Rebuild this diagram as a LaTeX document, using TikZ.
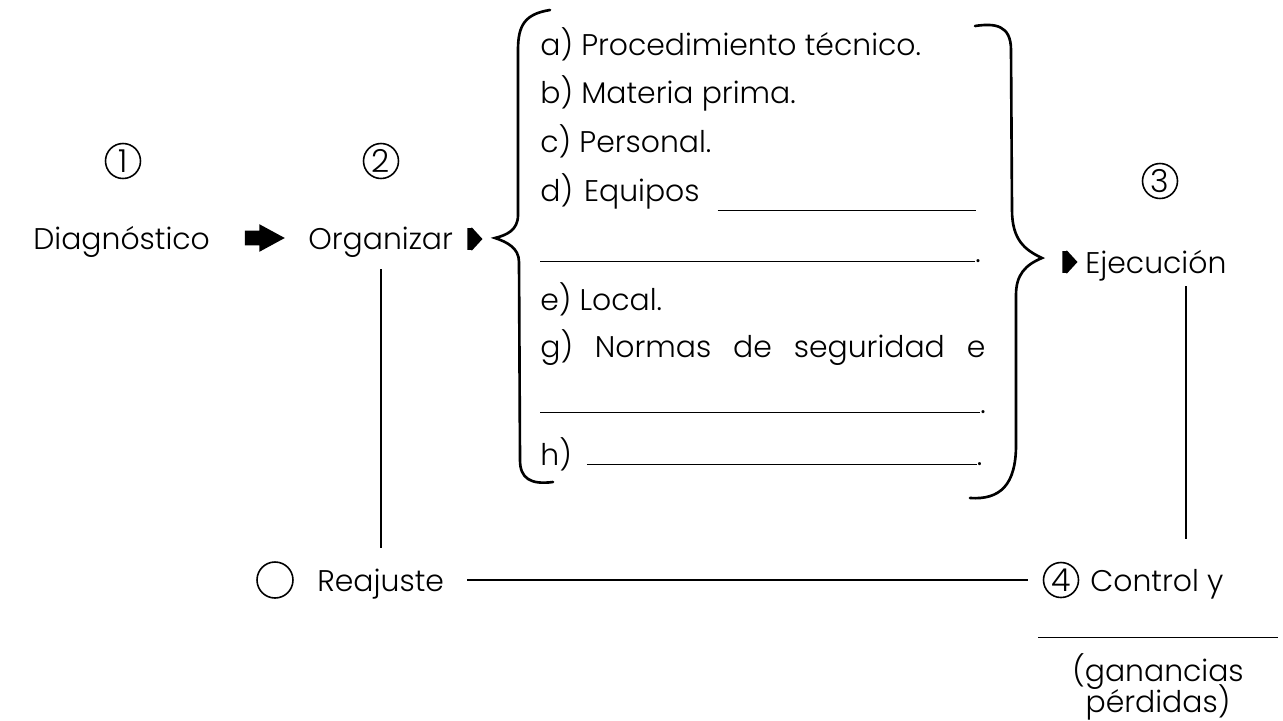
\documentclass[tikz,border=0pt]{standalone}
\usepackage{fontspec}
\setmainfont{Poppins}[UprightFont=* Light]
\usetikzlibrary{shapes.arrows}
\tikzset{
  lbl/.style={anchor=base west, inner sep=0pt, font=\fontsize{17}{20}\selectfont},
  num/.style={draw, circle, line width=0.9pt, minimum size=0.70cm, inner sep=0pt, font=\fontsize{18}{20}\selectfont},
  bigarrow/.style={single arrow, fill=black, minimum height=0.8cm, inner xsep=0pt, inner ysep=0.14cm,
    single arrow head extend=0.13cm, single arrow tip angle=57},
  tinyarrow/.style={single arrow, fill=black, minimum height=0.3cm, inner xsep=0pt, inner ysep=0.21cm,
    single arrow head extend=0.02cm, single arrow tip angle=95},
  link/.style={line width=1pt},
  brace/.style={line width=1.5pt, line cap=round}
}
\begin{document}
\begin{tikzpicture}
  \useasboundingbox (0,0) rectangle (25.66,-14.4);
  % step numbers
  \node[num] (n1) at (2.46,-3.22) {1};
  \node[num] (n2) at (7.62,-3.22) {2};
  \node[num] (n3) at (23.20,-3.62) {3};
  % top row
  \node[lbl] (diag) at (0.66,-4.98) {Diagnóstico};
  \node[bigarrow] (go) at (5.16,-4.76) {};
  \node[lbl] (org) at (6.16,-4.98) {Organizar};
  \node[tinyarrow] (toL) at (9.40,-4.78) {};
  % list in braces
  \node[lbl] (la) at (10.8,-1.10) {a) Procedimiento técnico.};
  \node[lbl] (lb) at (10.8,-2.06) {b) Materia prima.};
  \node[lbl] (lc) at (10.8,-3.04) {c) Personal.};
  \node[lbl] (ld) at (10.8,-4.02) {d)\hspace{0.22cm}Equipos\hspace{0.36cm}\rule[-0.2cm]{5.16cm}{0.6pt}};
  \node[lbl] (ld2) at (10.8,-5.24) {\rule{8.7cm}{0.6pt}.};
  \node[lbl] (le) at (10.8,-6.20) {e) Local.};
  \node[lbl] (lg) at (10.8,-7.14) {\makebox[8.9cm][s]{g) Normas de seguridad e}};
  \node[lbl] (lg2) at (10.8,-8.26) {\rule{8.8cm}{0.6pt}.};
  \node[lbl] (lh) at (10.8,-9.30) {h)\hspace{0.3cm}\rule{7.8cm}{0.6pt}.};
  \draw[brace] (11.0,-0.20) .. controls (10.5,-0.28) and (10.36,-0.5) .. (10.36,-1.0)
    -- (10.36,-4.3) .. controls (10.36,-4.6) and (10.14,-4.7) .. (9.90,-4.76)
    .. controls (10.14,-4.84) and (10.38,-4.96) .. (10.38,-5.24)
    -- (10.40,-9.2) .. controls (10.40,-9.56) and (10.6,-9.7) .. (11.06,-9.64);
  \draw[brace] (19.5,-0.52) .. controls (19.9,-0.46) and (20.22,-0.5) .. (20.22,-1.0)
    -- (20.24,-4.2) .. controls (20.24,-4.8) and (20.5,-5.0) .. (20.84,-5.16)
    .. controls (20.5,-5.3) and (20.32,-5.5) .. (20.32,-5.9)
    -- (20.32,-8.9) .. controls (20.32,-9.7) and (20.0,-10.0) .. (19.4,-9.96);
  % right side
  \node[tinyarrow] (toE) at (21.30,-5.24) {};
  \node[lbl] (ejec) at (21.70,-5.46) {Ejecución};
  % bottom row
  \node[draw, circle, line width=0.9pt, minimum size=0.72cm] (n5) at (5.50,-11.6) {};
  \node[lbl] (reaj) at (6.34,-11.82) {Reajuste};
  \node[num] (n4) at (21.22,-11.6) {4};
  \node[lbl] (ctrl) at (21.80,-11.82) {Control y};
  \node[lbl] (fill) at (20.76,-12.76) {\rule{4.8cm}{0.6pt}};
  \node[anchor=base, inner sep=0pt, font=\fontsize{17}{20}\selectfont] (gan) at (23.16,-13.62) {(ganancias};
  \node[anchor=base, inner sep=0pt, font=\fontsize{17}{20}\selectfont] (per) at (23.16,-14.24) {pérdidas)};
  % connectors
  \draw[link, shorten <=0.24cm, shorten >=0.4cm] (org.south) -- (org.south |- reaj.north);
  \draw[link, shorten <=0.1cm, shorten >=0.6cm] ([xshift=0.6cm]ejec.south) -- ([xshift=0.6cm]ejec.south |- ctrl.north);
  \draw[link, shorten <=0.46cm, shorten >=0.0cm] (reaj.east |- n4.west) -- ([xshift=-0.3cm]n4.west);
\end{tikzpicture}
\end{document}
